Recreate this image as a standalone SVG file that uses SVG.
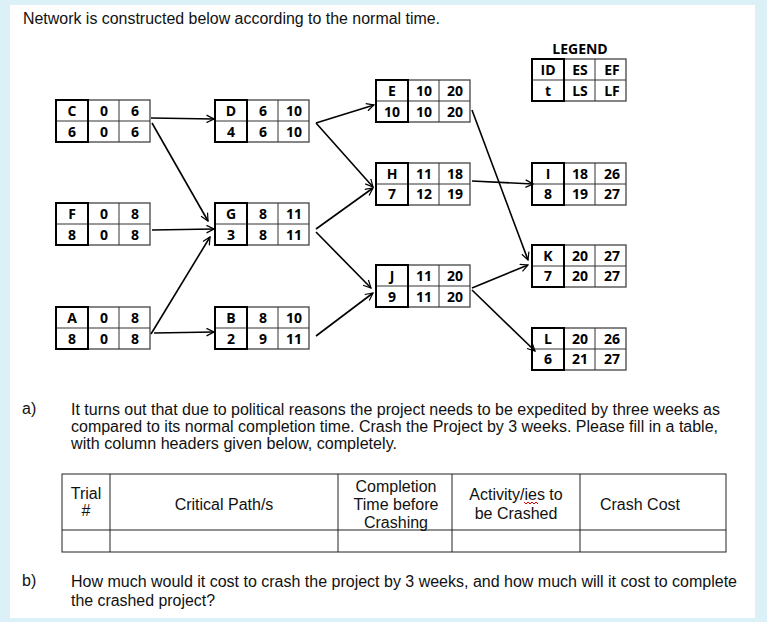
<svg xmlns="http://www.w3.org/2000/svg" width="767" height="622" viewBox="0 0 767 622">
<style>
.c{fill:#fff;stroke:#444;stroke-width:1.3}
.id{fill:none;stroke:#000;stroke-width:2}
.n{font-family:"Open Sans","Liberation Sans",sans-serif;font-weight:bold;font-size:14px;text-anchor:middle;fill:#000}
.t{font-family:"Liberation Sans",Arial,sans-serif;font-size:16px;fill:#111}
.th{font-family:"Liberation Sans",Arial,sans-serif;font-size:16px;fill:#111;text-anchor:middle}
.a{stroke:#000;stroke-width:1.6;fill:none;marker-end:url(#ah)}
.g{stroke:#333;stroke-width:1;fill:none}
</style>
<defs>
<marker id="ah" viewBox="0 0 12 12" refX="11" refY="6" markerWidth="9" markerHeight="9" markerUnits="userSpaceOnUse" orient="auto"><path d="M1,1 L11,6 L1,11" fill="none" stroke="#000" stroke-width="1.6"/></marker>
<g id="box"><rect class="c" x="0" y="0" width="94" height="42"/><line class="g" x1="32" y1="0" x2="32" y2="42"/><line class="g" x1="63" y1="0" x2="63" y2="42"/><line class="g" x1="0" y1="21" x2="94" y2="21"/><rect class="id" x="0" y="0" width="32" height="42"/></g>
</defs>
<rect width="767" height="622" fill="#dcf1f7"/>
<rect x="10" y="5" width="745" height="613" fill="#fff"/>
<text class="t" x="23" y="24" textLength="417" lengthAdjust="spacingAndGlyphs">Network is constructed below according to the normal time.</text>
<g id="legend"><text class="n" x="580" y="54">LEGEND</text><use href="#box" x="532" y="59"/><text class="n" x="548" y="75">ID</text><text class="n" x="580" y="75">ES</text><text class="n" x="612" y="75">EF</text><text class="n" x="548" y="96">t</text><text class="n" x="580" y="96">LS</text><text class="n" x="612" y="96">LF</text></g>
<g id="nC"><use href="#box" x="56" y="100"/><text class="n" x="72" y="116">C</text><text class="n" x="104" y="116">0</text><text class="n" x="135" y="116">6</text><text class="n" x="72" y="137">6</text><text class="n" x="104" y="137">0</text><text class="n" x="135" y="137">6</text></g>
<g id="nF"><use href="#box" x="56" y="203"/><text class="n" x="72" y="219">F</text><text class="n" x="104" y="219">0</text><text class="n" x="135" y="219">8</text><text class="n" x="72" y="240">8</text><text class="n" x="104" y="240">0</text><text class="n" x="135" y="240">8</text></g>
<g id="nA"><use href="#box" x="56" y="307"/><text class="n" x="72" y="323">A</text><text class="n" x="104" y="323">0</text><text class="n" x="135" y="323">8</text><text class="n" x="72" y="344">8</text><text class="n" x="104" y="344">0</text><text class="n" x="135" y="344">8</text></g>
<g id="nD"><use href="#box" x="215" y="100"/><text class="n" x="231" y="116">D</text><text class="n" x="263" y="116">6</text><text class="n" x="294" y="116">10</text><text class="n" x="231" y="137">4</text><text class="n" x="263" y="137">6</text><text class="n" x="294" y="137">10</text></g>
<g id="nG"><use href="#box" x="215" y="203"/><text class="n" x="231" y="219">G</text><text class="n" x="263" y="219">8</text><text class="n" x="294" y="219">11</text><text class="n" x="231" y="240">3</text><text class="n" x="263" y="240">8</text><text class="n" x="294" y="240">11</text></g>
<g id="nB"><use href="#box" x="215" y="307"/><text class="n" x="231" y="323">B</text><text class="n" x="263" y="323">8</text><text class="n" x="294" y="323">10</text><text class="n" x="231" y="344">2</text><text class="n" x="263" y="344">9</text><text class="n" x="294" y="344">11</text></g>
<g id="nE"><use href="#box" x="376" y="80"/><text class="n" x="392" y="96">E</text><text class="n" x="424" y="96">10</text><text class="n" x="455" y="96">20</text><text class="n" x="392" y="117">10</text><text class="n" x="424" y="117">10</text><text class="n" x="455" y="117">20</text></g>
<g id="nH"><use href="#box" x="376" y="163"/><text class="n" x="392" y="179">H</text><text class="n" x="424" y="179">11</text><text class="n" x="455" y="179">18</text><text class="n" x="392" y="199">7</text><text class="n" x="424" y="199">12</text><text class="n" x="455" y="199">19</text></g>
<g id="nJ"><use href="#box" x="376" y="265"/><text class="n" x="392" y="281">J</text><text class="n" x="424" y="281">11</text><text class="n" x="455" y="281">20</text><text class="n" x="392" y="302">9</text><text class="n" x="424" y="302">11</text><text class="n" x="455" y="302">20</text></g>
<g id="nI"><use href="#box" x="532" y="163"/><text class="n" x="548" y="179">I</text><text class="n" x="580" y="179">18</text><text class="n" x="612" y="179">26</text><text class="n" x="548" y="199">8</text><text class="n" x="580" y="199">19</text><text class="n" x="612" y="199">27</text></g>
<g id="nK"><use href="#box" x="532" y="245"/><text class="n" x="548" y="261">K</text><text class="n" x="580" y="261">20</text><text class="n" x="612" y="261">27</text><text class="n" x="548" y="281">7</text><text class="n" x="580" y="281">20</text><text class="n" x="612" y="281">27</text></g>
<g id="nL"><use href="#box" x="532" y="328"/><text class="n" x="548" y="344">L</text><text class="n" x="580" y="344">20</text><text class="n" x="612" y="344">26</text><text class="n" x="548" y="364">6</text><text class="n" x="580" y="364">21</text><text class="n" x="612" y="364">27</text></g>
<g id="connectors">
<line class="a" x1="151" y1="118" x2="214" y2="119"/>
<line class="a" x1="152" y1="123" x2="208" y2="221"/>
<line class="a" x1="152" y1="230" x2="214" y2="229"/>
<line class="a" x1="151" y1="334" x2="210" y2="237"/>
<line class="a" x1="154" y1="333" x2="214" y2="332"/>
<line class="a" x1="316" y1="123" x2="374" y2="105"/>
<line class="a" x1="316" y1="123" x2="373" y2="187"/>
<line class="a" x1="316" y1="229" x2="373" y2="188"/>
<line class="a" x1="316" y1="232" x2="371" y2="288"/>
<line class="a" x1="316" y1="336" x2="373" y2="293"/>
<line class="a" x1="472" y1="110" x2="528" y2="260"/>
<line class="a" x1="472" y1="181" x2="533" y2="184"/>
<line class="a" x1="472" y1="288" x2="528" y2="265"/>
<line class="a" x1="472" y1="290" x2="535" y2="351"/>
</g>
<text class="t" x="22" y="414">a)</text>
<text class="t" x="71" y="415" textLength="649" lengthAdjust="spacingAndGlyphs">It turns out that due to political reasons the project needs to be expedited by three weeks as</text>
<text class="t" x="71" y="432" textLength="647" lengthAdjust="spacingAndGlyphs">compared to its normal completion time. Crash the Project by 3 weeks. Please fill in a table,</text>
<text class="t" x="71" y="449" textLength="326" lengthAdjust="spacingAndGlyphs">with column headers given below, completely.</text>
<g id="table" stroke="#222" stroke-width="1" fill="none">
<rect x="62" y="474" width="664" height="78"/>
<line x1="62" y1="530" x2="726" y2="530"/>
<line x1="110" y1="474" x2="110" y2="552"/>
<line x1="338" y1="474" x2="338" y2="552"/>
<line x1="452" y1="474" x2="452" y2="552"/>
<line x1="580" y1="474" x2="580" y2="552"/>
</g>
<text class="th" x="86" y="499">Trial</text><text class="th" x="86" y="516">#</text>
<text class="th" x="224" y="510">Critical Path/s</text>
<text class="th" x="396" y="492">Completion</text><text class="th" x="396" y="510">Time before</text><text class="th" x="396" y="528">Crashing</text>
<text class="th" x="516" y="500">Activity/ies to</text><text class="th" x="516" y="519">be Crashed</text>
<text class="th" x="640" y="510">Crash Cost</text>
<path d="M524,502 l2,2 2,-2 2,2 2,-2 2,2 2,-2 2,2" stroke="#d00" stroke-width="1" fill="none"/>
<text class="t" x="22" y="586">b)</text>
<text class="t" x="71" y="587" textLength="666" lengthAdjust="spacingAndGlyphs">How much would it cost to crash the project by 3 weeks, and how much will it cost to complete</text>
<text class="t" x="71" y="606" textLength="144" lengthAdjust="spacingAndGlyphs">the crashed project?</text>
</svg>
